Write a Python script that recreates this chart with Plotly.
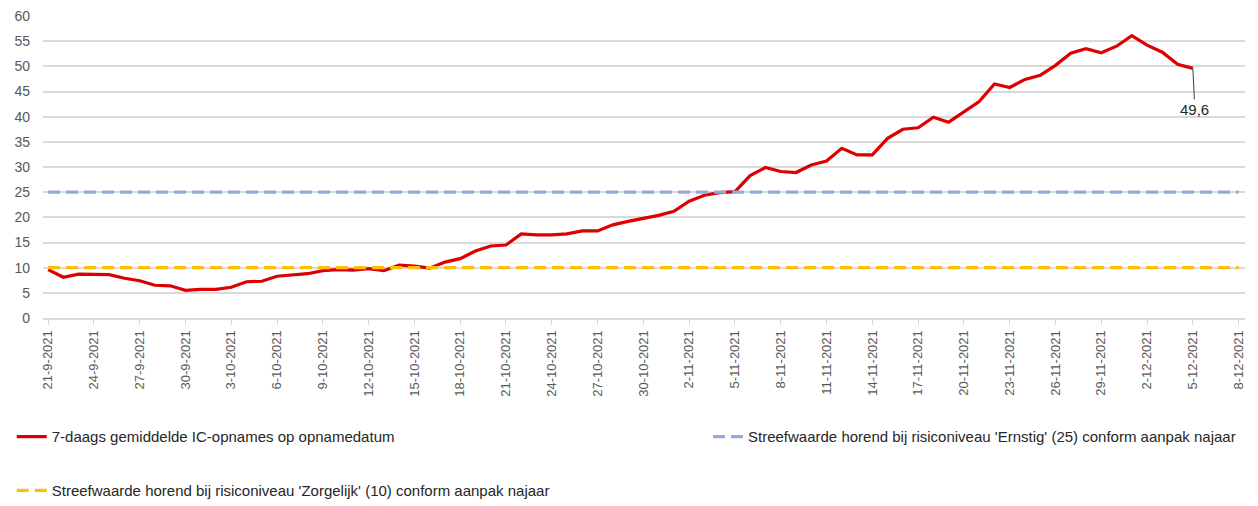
import pandas as pd
import plotly.graph_objects as go

# x-as: dagelijkse categorieen 21-9-2021 t/m 8-12-2021
START = "2021-09-21"
END = "2021-12-08"
dates = pd.date_range(START, END, freq="D")

# 7-daags gemiddelde IC-opnames (21-9 t/m 5-12)
ic_opnames = [
    9.6, 8.1, 8.7, 8.7, 8.6, 7.9, 7.4, 6.5, 6.4, 5.5,
    5.7, 5.7, 6.1, 7.2, 7.3, 8.3, 8.5, 8.8, 9.4, 9.6,
    9.5, 9.8, 9.4, 10.5, 10.3, 9.9, 11.1, 11.8, 13.3, 14.3,
    14.5, 16.7, 16.5, 16.5, 16.7, 17.3, 17.3, 18.5, 19.2, 19.8,
    20.4, 21.2, 23.2, 24.4, 24.9, 25.1, 28.3, 29.9, 29.1, 28.9,
    30.4, 31.2, 33.7, 32.4, 32.4, 35.7, 37.5, 37.8, 39.9, 38.9,
    41.0, 43.0, 46.5, 45.8, 47.4, 48.2, 50.2, 52.6, 53.5, 52.7,
    54.0, 56.1, 54.2, 52.8, 50.4, 49.6,
]
ic_dates = dates[:len(ic_opnames)]

ERNSTIG = 25
ZORGELIJK = 10

names = {
    "ic": "7-daags gemiddelde IC-opnames op opnamedatum",
    "ernstig": "Streefwaarde horend bij risiconiveau 'Ernstig' (25) conform aanpak najaar",
    "zorgelijk": "Streefwaarde horend bij risiconiveau 'Zorgelijk' (10) conform aanpak najaar",
}

COLORS = {
    "ic": "#dd0000",
    "ernstig": "#8faadc",
    "zorgelijk": "#ffc000",
    "grid": "#d9d9d9",
    "text": "#595959",
}
FONT = "Liberation Sans, Arial, sans-serif"

fig = go.Figure()
fig.add_trace(go.Scatter(
    x=ic_dates, y=ic_opnames, mode="lines", name=names["ic"],
    line=dict(color=COLORS["ic"], width=3.2), legend="legend",
))
fig.add_trace(go.Scatter(
    x=[dates[0], dates[-1]], y=[ERNSTIG, ERNSTIG], mode="lines", name=names["ernstig"],
    line=dict(color=COLORS["ernstig"], width=3.2, dash="12px,6px"), legend="legend2",
))
fig.add_trace(go.Scatter(
    x=[dates[0], dates[-1]], y=[ZORGELIJK, ZORGELIJK], mode="lines", name=names["zorgelijk"],
    line=dict(color=COLORS["zorgelijk"], width=3.2, dash="12px,6px"), legend="legend3",
))

# label bij laatste waarde
fig.add_annotation(
    x=ic_dates[-1], y=ic_opnames[-1], text=f"{ic_opnames[-1]:.1f}".replace(".", ","),
    showarrow=True, arrowhead=0, arrowwidth=1, arrowcolor="#404040",
    ax=2, ay=41, font=dict(size=15, color="#262626", family=FONT),
)

leg = dict(orientation="h", xref="container", yref="container", xanchor="left", yanchor="middle",
           font=dict(size=15, color="#262626", family=FONT), bgcolor="rgba(0,0,0,0)",
           itemwidth=30, tracegroupgap=0)

# pagina heeft 8px body-marge links/boven: figuur iets kleiner zodat alles in het venster valt
fig.update_layout(
    width=1250, height=498,
    paper_bgcolor="white", plot_bgcolor="white",
    margin=dict(l=35, r=13, t=8, b=188, autoexpand=False),
    font=dict(family=FONT, color=COLORS["text"]),
    showlegend=True,
    legend=dict(**leg, x=0.003, y=0.139),
    legend2=dict(**leg, x=0.56, y=0.139),
    legend3=dict(**leg, x=0.003, y=0.031),
    xaxis=dict(
        type="date",
        range=["2021-09-20 16:00", "2021-12-08 10:00"],
        tickmode="linear", tick0=START, dtick=3 * 86400000,
        tickformat="%-d-%-m-%Y", tickangle=-90,
        tickfont=dict(size=13, color=COLORS["text"], family=FONT),
        showgrid=False, showline=True, linecolor=COLORS["grid"], linewidth=2,
        ticks="outside", ticklen=5, tickcolor=COLORS["grid"],
    ),
    yaxis=dict(
        range=[0, 60], dtick=5, tick0=0,
        tickfont=dict(size=14, color=COLORS["text"], family=FONT),
        showgrid=True, gridcolor=COLORS["grid"], gridwidth=1.5,
        zeroline=False, ticklabelstandoff=12, ticklabeloverflow="allow",
    ),
)

fig.write_html("out.html")
